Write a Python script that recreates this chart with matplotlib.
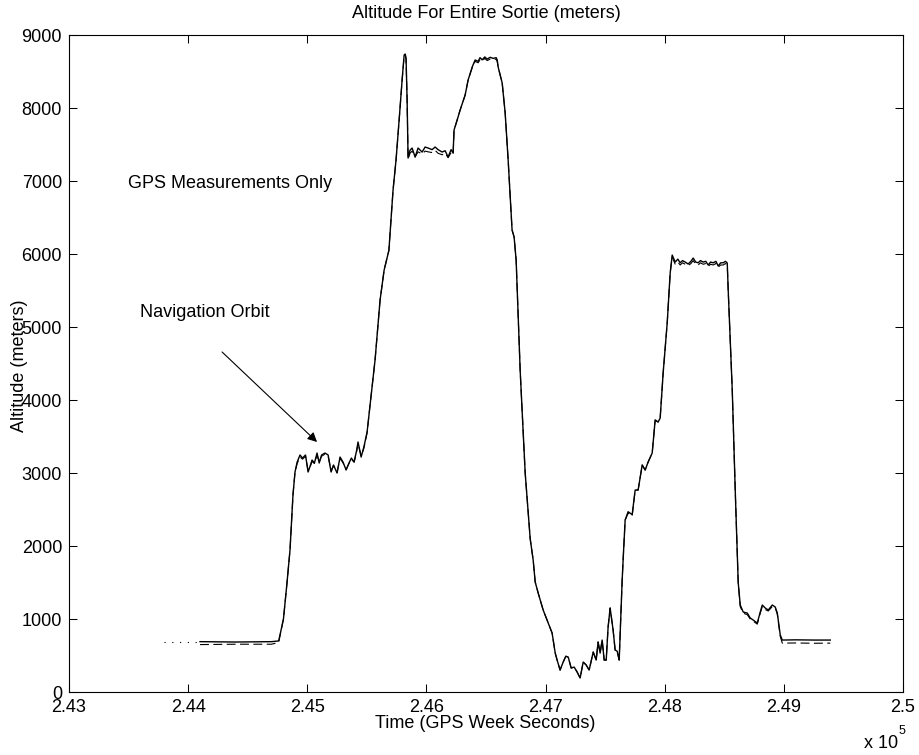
import matplotlib
matplotlib.use("Agg")
import matplotlib.pyplot as plt

plt.rcParams['font.family'] = ['Liberation Sans', 'DejaVu Sans']

# GPS week seconds / altitude (m), navigation solution
t_nav = [244100, 244400, 244700, 244760, 244800, 244830, 244855, 244880, 244897, 244915,
         244939, 244960, 244985, 245007, 245025, 245040, 245060, 245082, 245100, 245120,
         245149, 245175, 245200, 245220, 245250, 245275, 245300, 245326, 245350, 245370,
         245393, 245415, 245426, 245452, 245475, 245502, 245527, 245569, 245611, 245645,
         245670, 245685, 245700, 245720, 245745, 245771, 245796, 245813, 245822, 245829,
         245838, 245846, 245862, 245880, 245905, 245930, 245964, 245989, 246014, 246048,
         246073, 246098, 246132, 246157, 246182, 246207, 246224, 246232, 246258, 246283,
         246325, 246350, 246384, 246409, 246434, 246450, 246468, 246490, 246510, 246535,
         246560, 246585, 246594, 246602, 246636, 246661, 246686, 246719, 246736, 246753,
         246787, 246829, 246871, 246896, 246913, 246938, 246980, 247013, 247055, 247081,
         247097, 247122, 247148, 247170, 247190, 247215, 247240, 247265, 247290, 247316,
         247341, 247366, 247400, 247425, 247441, 247458, 247475, 247492, 247509, 247525,
         247542, 247567, 247584, 247601, 247618, 247643, 247651, 247668, 247693, 247727,
         247752, 247777, 247811, 247836, 247861, 247895, 247920, 247945, 247962, 247987,
         248021, 248046, 248063, 248088, 248110, 248130, 248150, 248172, 248197, 248220,
         248239, 248260, 248281, 248300, 248323, 248345, 248365, 248385, 248407, 248430,
         248449, 248470, 248491, 248510, 248525, 248533, 248567, 248592, 248617, 248634,
         248659, 248693, 248718, 248743, 248777, 248802, 248819, 248844, 248869, 248903,
         248928, 248945, 248970, 248987, 249100, 249250, 249390]
alt_nav = [690, 685, 690, 700, 1000, 1500, 1945, 2700, 3014, 3150,
           3247, 3205, 3247, 3014, 3100, 3178, 3137, 3274, 3137, 3247,
           3274, 3247, 3014, 3110, 3000, 3219, 3150, 3041, 3137, 3205,
           3150, 3315, 3425, 3219, 3356, 3562, 3932, 4550, 5370, 5780,
           5950, 6050, 6400, 6877, 7288, 7836, 8384, 8726, 8740, 8685,
           8110, 7315, 7420, 7452, 7329, 7452, 7397, 7466, 7452, 7430,
           7466, 7430, 7397, 7415, 7329, 7430, 7384, 7699, 7836, 7973,
           8178, 8384, 8562, 8658, 8640, 8690, 8660, 8700, 8670, 8695,
           8680, 8690, 8660, 8562, 8342, 7932, 7288, 6329, 6233, 5918,
           4400, 3000, 2100, 1808, 1507, 1356, 1123, 986, 808, 534,
           438, 301, 411, 490, 479, 329, 342, 274, 192, 411,
           370, 301, 548, 438, 685, 534, 712, 438, 438, 890,
           1151, 849, 575, 560, 438, 1534, 1808, 2356, 2470, 2430,
           2767, 2767, 3110, 3041, 3151, 3274, 3726, 3699, 3753, 4370,
           5055, 5740, 5986, 5890, 5930, 5880, 5910, 5890, 5863, 5900,
           5945, 5890, 5880, 5910, 5890, 5900, 5849, 5890, 5880, 5900,
           5836, 5880, 5880, 5900, 5877, 5507, 4137, 2767, 1500, 1192,
           1096, 1082, 1014, 986, 945, 1096, 1192, 1151, 1123, 1192,
           1164, 1082, 781, 712, 715, 712, 712]

# GPS measurement altitudes (m) at the same epochs
alt_gps = [650, 655, 655, 680, 1000, 1500, 1945, 2700, 3014, 3130,
           3220, 3190, 3230, 3030, 3090, 3160, 3130, 3250, 3150, 3230,
           3260, 3230, 3030, 3100, 3010, 3200, 3140, 3050, 3130, 3190,
           3150, 3300, 3410, 3230, 3340, 3550, 3932, 4550, 5370, 5780,
           5950, 6050, 6400, 6877, 7288, 7836, 8384, 8710, 8725, 8670,
           8110, 7300, 7380, 7410, 7330, 7400, 7370, 7410, 7400, 7390,
           7420, 7380, 7360, 7380, 7320, 7390, 7360, 7699, 7836, 7973,
           8178, 8384, 8550, 8640, 8620, 8660, 8640, 8680, 8650, 8670,
           8660, 8670, 8640, 8562, 8342, 7932, 7288, 6329, 6233, 5918,
           4400, 3000, 2100, 1808, 1507, 1356, 1123, 986, 808, 534,
           438, 301, 411, 490, 479, 329, 342, 274, 192, 411,
           370, 301, 548, 438, 685, 534, 712, 438, 438, 890,
           1151, 849, 575, 560, 438, 1534, 1808, 2356, 2450, 2410,
           2767, 2767, 3110, 3041, 3151, 3274, 3726, 3699, 3753, 4370,
           5055, 5740, 5960, 5860, 5890, 5850, 5880, 5860, 5840, 5870,
           5910, 5860, 5850, 5880, 5860, 5870, 5830, 5860, 5850, 5870,
           5820, 5850, 5850, 5870, 5850, 5507, 4137, 2767, 1500, 1170,
           1080, 1060, 1000, 970, 930, 1080, 1170, 1130, 1110, 1170,
           1150, 1070, 760, 670, 672, 668, 670]

# reference altitude before takeoff
t_ref = [243800, 244120]
alt_ref = [690, 690]

xticks = [243000, 244000, 245000, 246000, 247000, 248000, 249000, 250000]
xtick_labels = ['2.43', '2.44', '2.45', '2.46', '2.47', '2.48', '2.49', '2.5']
yticks = [0, 1000, 2000, 3000, 4000, 5000, 6000, 7000, 8000, 9000]

fig = plt.figure(figsize=(9.2, 7.55), dpi=100)
ax = fig.add_axes([0.075, 0.0834, 0.9065, 0.8702])

ax.plot(t_nav, alt_gps, color='k', lw=0.8, ls=(0, (8, 4)))
ax.plot(t_nav, alt_nav, color='k', lw=1.0)
ax.plot(t_ref, alt_ref, color='k', lw=0.8, ls=(0, (1, 6)))

ax.set_xlim(243000, 250000)
ax.set_ylim(0, 9000)
ax.set_xticks(xticks)
ax.set_xticklabels(xtick_labels)
ax.set_yticks(yticks)
ax.tick_params(direction='in', top=True, right=True, length=5.5, width=0.75,
               labelsize=13, pad=5)
for s in ax.spines.values():
    s.set_linewidth(0.8)

ax.text(243495, 6973, 'GPS Measurements Only', fontsize=13, va='center', ha='left')
ax.text(243596, 5205, 'Navigation Orbit', fontsize=13, va='center', ha='left')
ax.annotate('', xy=(245082, 3425), xytext=(244285, 4658),
            arrowprops=dict(arrowstyle='-|>', color='k', lw=0.8,
                            mutation_scale=14, shrinkA=0, shrinkB=0))

fig.text(486.5 / 920, 1 - 14 / 755, 'Altitude For Entire Sortie (meters)',
         fontsize=13, ha='center', va='center')
fig.text(485 / 920, 1 - 723 / 755, 'Time (GPS Week Seconds)',
         fontsize=13, ha='center', va='center')
fig.text(20 / 920, 1 - 366 / 755, 'Altitude (meters)', fontsize=13,
         rotation=90, ha='center', va='center')
fig.text(898 / 920, 1 - 743 / 755, 'x 10', fontsize=13, ha='right', va='center')
fig.text(899 / 920, 1 - 731 / 755, '5', fontsize=9, ha='left', va='center')

fig.savefig('out.png', dpi=100)
